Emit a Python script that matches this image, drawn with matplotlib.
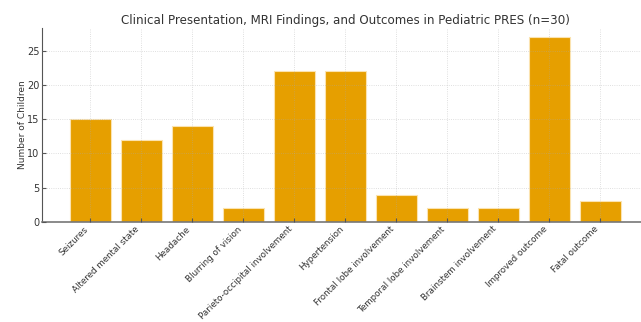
import matplotlib
matplotlib.use("Agg")
import matplotlib.pyplot as plt

features = [
    "Seizures",
    "Altered mental state",
    "Headache",
    "Blurring of vision",
    "Parieto-occipital involvement",
    "Hypertension",
    "Frontal lobe involvement",
    "Temporal lobe involvement",
    "Brainstem involvement",
    "Improved outcome",
    "Fatal outcome",
]
counts = [15, 12, 14, 2, 22, 22, 4, 2, 2, 27, 3]

fig = plt.figure(figsize=(6.41, 3.22), dpi=100)
ax = fig.add_axes([0.066, 0.311, 0.945, 0.602])

ax.bar(range(len(features)), counts, width=0.8, color="#E69F00",
       edgecolor="#FBE3B0", linewidth=0.8)

# grid sits over the bars, kept faint
ax.set_axisbelow(False)
ax.grid(True, color="#aaaaaa", linestyle=":", linewidth=0.6, alpha=0.5)

ax.set_xticks(range(len(features)))
ax.set_xticklabels(features, rotation=45, ha="right",
                   fontsize=6.3, color="#333333")
ax.tick_params(axis="y", labelsize=7, colors="#333333", pad=2)
ax.tick_params(axis="x", pad=2)
ax.tick_params(axis="both", direction="in", length=3, color="#555555")
ax.set_ylabel("Number of Children", fontsize=6.5, color="#333333", labelpad=0)
ax.set_title("Clinical Presentation, MRI Findings, and Outcomes in Pediatric PRES (n=30)",
             fontsize=8.6, color="#333333", pad=3)

for side in ["top", "right"]:
    ax.spines[side].set_visible(False)
ax.spines["left"].set_color("#555555")
ax.spines["bottom"].set_color("#777777")
ax.spines["bottom"].set_linewidth(1.2)

fig.savefig("out.png", dpi=100)
